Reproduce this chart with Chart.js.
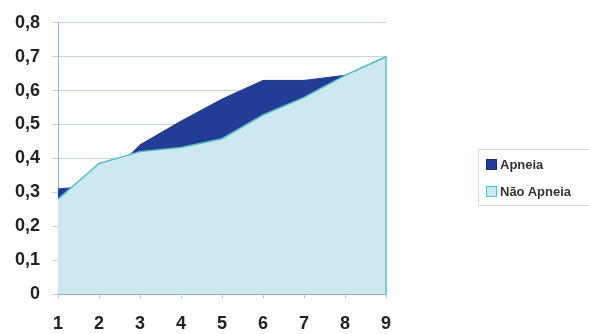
<!DOCTYPE html>
<html>
<head>
<meta charset="utf-8">
<script src="https://cdn.jsdelivr.net/npm/chart.js@4.4.0/dist/chart.umd.min.js"></script>
<style>
  body { margin: 0; background: #fff; }
  #wrap { position: relative; width: 589px; height: 334px; }
  #legend {
    position: absolute; left: 478px; top: 149px; width: 120px; height: 57px;
    border: 1px solid #d6dde4; box-sizing: border-box;
    font: bold 13px "Liberation Sans", Arial, sans-serif; color: #333;
  }
  .item { position: absolute; left: 7px; height: 14px; line-height: 14px; }
  .sw { display: inline-block; width: 9px; height: 9px; vertical-align: -1px; margin-right: 3px; }
</style>
</head>
<body>
<div id="wrap">
  <canvas id="myChart" width="589" height="334"></canvas>
  <div id="legend">
    <div class="item" style="top:8px"><span class="sw" style="background:#233c96;border:1px solid #1a2c70"></span>Apneia</div>
    <div class="item" style="top:35px"><span class="sw" style="background:#cde8f0;border:1px solid #5bbfc0"></span>Não Apneia</div>
  </div>
</div>
<script>
// values
const categories = ['1', '2', '3', '4', '5', '6', '7', '8', '9']
const apneia = [0.31, 0.32, 0.44, 0.51, 0.575, 0.63, 0.63, 0.645, 0.70]
const naoApneia = [0.28, 0.385, 0.42, 0.432, 0.458, 0.528, 0.58, 0.645, 0.70]
const yTicks = [0, 0.1, 0.2, 0.3, 0.4, 0.5, 0.6, 0.7, 0.8]

const font = { family: '"Liberation Sans", Arial, sans-serif', size: 18, weight: 'bold' }

// teal edge on the right side of the light area, like the original
const rightEdge = {
    id: 'rightEdge',
    afterDatasetsDraw(chart) {
        const meta = chart.getDatasetMeta(1)
        const last = meta.data[meta.data.length - 1]
        const c = chart.ctx
        c.save()
        c.strokeStyle = '#5bbfc0'
        c.lineWidth = 1.5
        c.beginPath()
        c.moveTo(last.x, last.y)
        c.lineTo(last.x, chart.scales.y.getPixelForValue(0))
        c.stroke()
        c.restore()
    }
}

const ctx = document.getElementById('myChart').getContext('2d')

new Chart(ctx, {
    type: 'line',
    data: {
        labels: categories,
        datasets: [{
            label: 'Apneia',
            data: apneia,
            backgroundColor: '#233c96',
            borderColor: '#233c96',
            borderWidth: 1,
            fill: 'origin',
            pointRadius: 0,
            tension: 0,
            order: 2
        }, {
            label: 'Não Apneia',
            data: naoApneia,
            backgroundColor: '#cde8f0',
            borderColor: '#5bbfc0',
            borderWidth: 1.5,
            fill: 'origin',
            pointRadius: 0,
            tension: 0,
            order: 1
        }]
    },
    plugins: [rightEdge],
    options: {
        responsive: false,
        animation: false,
        layout: { padding: { left: 0, right: 203, top: 20, bottom: 0 } },
        plugins: {
            legend: { display: false },
            tooltip: { enabled: false }
        },
        scales: {
            x: {
                offset: false,
                grid: { drawOnChartArea: false, color: '#b8c4d0', tickLength: 4 },
                border: { color: '#8fb0b8' },
                ticks: { color: '#222', font: font, padding: 15, maxRotation: 0 },
                afterFit: (s) => { s.height = 40 }
            },
            y: {
                min: 0,
                max: 0.8,
                afterBuildTicks: (s) => { s.ticks = yTicks.map(v => ({ value: v })) },
                grid: { color: '#c5d3e0', tickLength: 6 },
                border: { color: '#9aa8b8' },
                ticks: {
                    color: '#222',
                    font: font,
                    padding: 12,
                    callback: (v) => v === 0 ? '0' : v.toFixed(1).replace('.', ',')
                },
                afterFit: (s) => { s.width = 58 }
            }
        }
    }
})
</script>
</body>
</html>
